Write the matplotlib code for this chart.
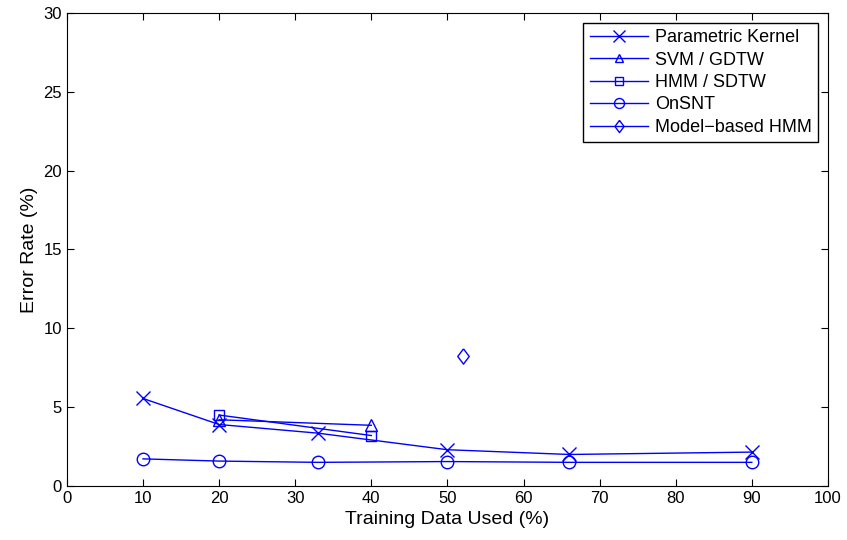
import matplotlib
matplotlib.use("Agg")
import matplotlib.pyplot as plt

plt.rcParams['font.family'] = ['Liberation Sans', 'DejaVu Sans']

# data
pk_x = [10, 20, 33, 50, 66, 90]
pk_y = [5.55, 3.9, 3.35, 2.3, 2.0, 2.15]
svm_x = [20, 40]
svm_y = [4.2, 3.85]
hmm_x = [20, 40]
hmm_y = [4.5, 3.2]
onsnt_x = [10, 20, 33, 50, 66, 90]
onsnt_y = [1.72, 1.58, 1.5, 1.55, 1.5, 1.5]
mb_x = [52]
mb_y = [8.25]

# matlab style diamond (a bit wider than 'd')
diamond = [(0, 1), (0.75, 0), (0, -1), (-0.75, 0), (0, 1)]

fig = plt.figure(figsize=(8.47, 5.4), dpi=100)
ax = fig.add_axes([0.079, 0.1, 0.8985, 0.876])

blue = (0, 0, 1)
ax.plot(pk_x, pk_y, color=blue, lw=1, marker='x', ms=10, mew=1, label='Parametric Kernel')
ax.plot(svm_x, svm_y, color=blue, lw=1, marker='^', ms=8, mfc='none', mew=1, label='SVM / GDTW')
ax.plot(hmm_x, hmm_y, color=blue, lw=1, marker='s', ms=7, mfc='none', mew=1, label='HMM / SDTW')
ax.plot(onsnt_x, onsnt_y, color=blue, lw=1, marker='o', ms=9, mfc='none', mew=1, label='OnSNT')
ax.plot(mb_x, mb_y, color=blue, lw=1, marker=diamond, ms=11, mfc='none', mew=1, label='Model\u2212based HMM')

ax.set_xlim(0, 100)
ax.set_ylim(0, 30)
ax.set_xticks(range(0, 101, 10))
ax.set_yticks(range(0, 31, 5))
ax.tick_params(direction='in', top=True, right=True, labelsize=12, length=5)
ax.set_xlabel('Training Data Used (%)', fontsize=14)
ax.set_ylabel('Error Rate (%)', fontsize=14)

leg = ax.legend(loc='upper right', fontsize=13, fancybox=False, framealpha=1,
                edgecolor='black', handlelength=3.2, handletextpad=0.4,
                borderpad=0.35, labelspacing=0.3, borderaxespad=0.55,
                markerscale=0.8)
leg.get_frame().set_linewidth(1)

fig.savefig('out.png', dpi=100)
